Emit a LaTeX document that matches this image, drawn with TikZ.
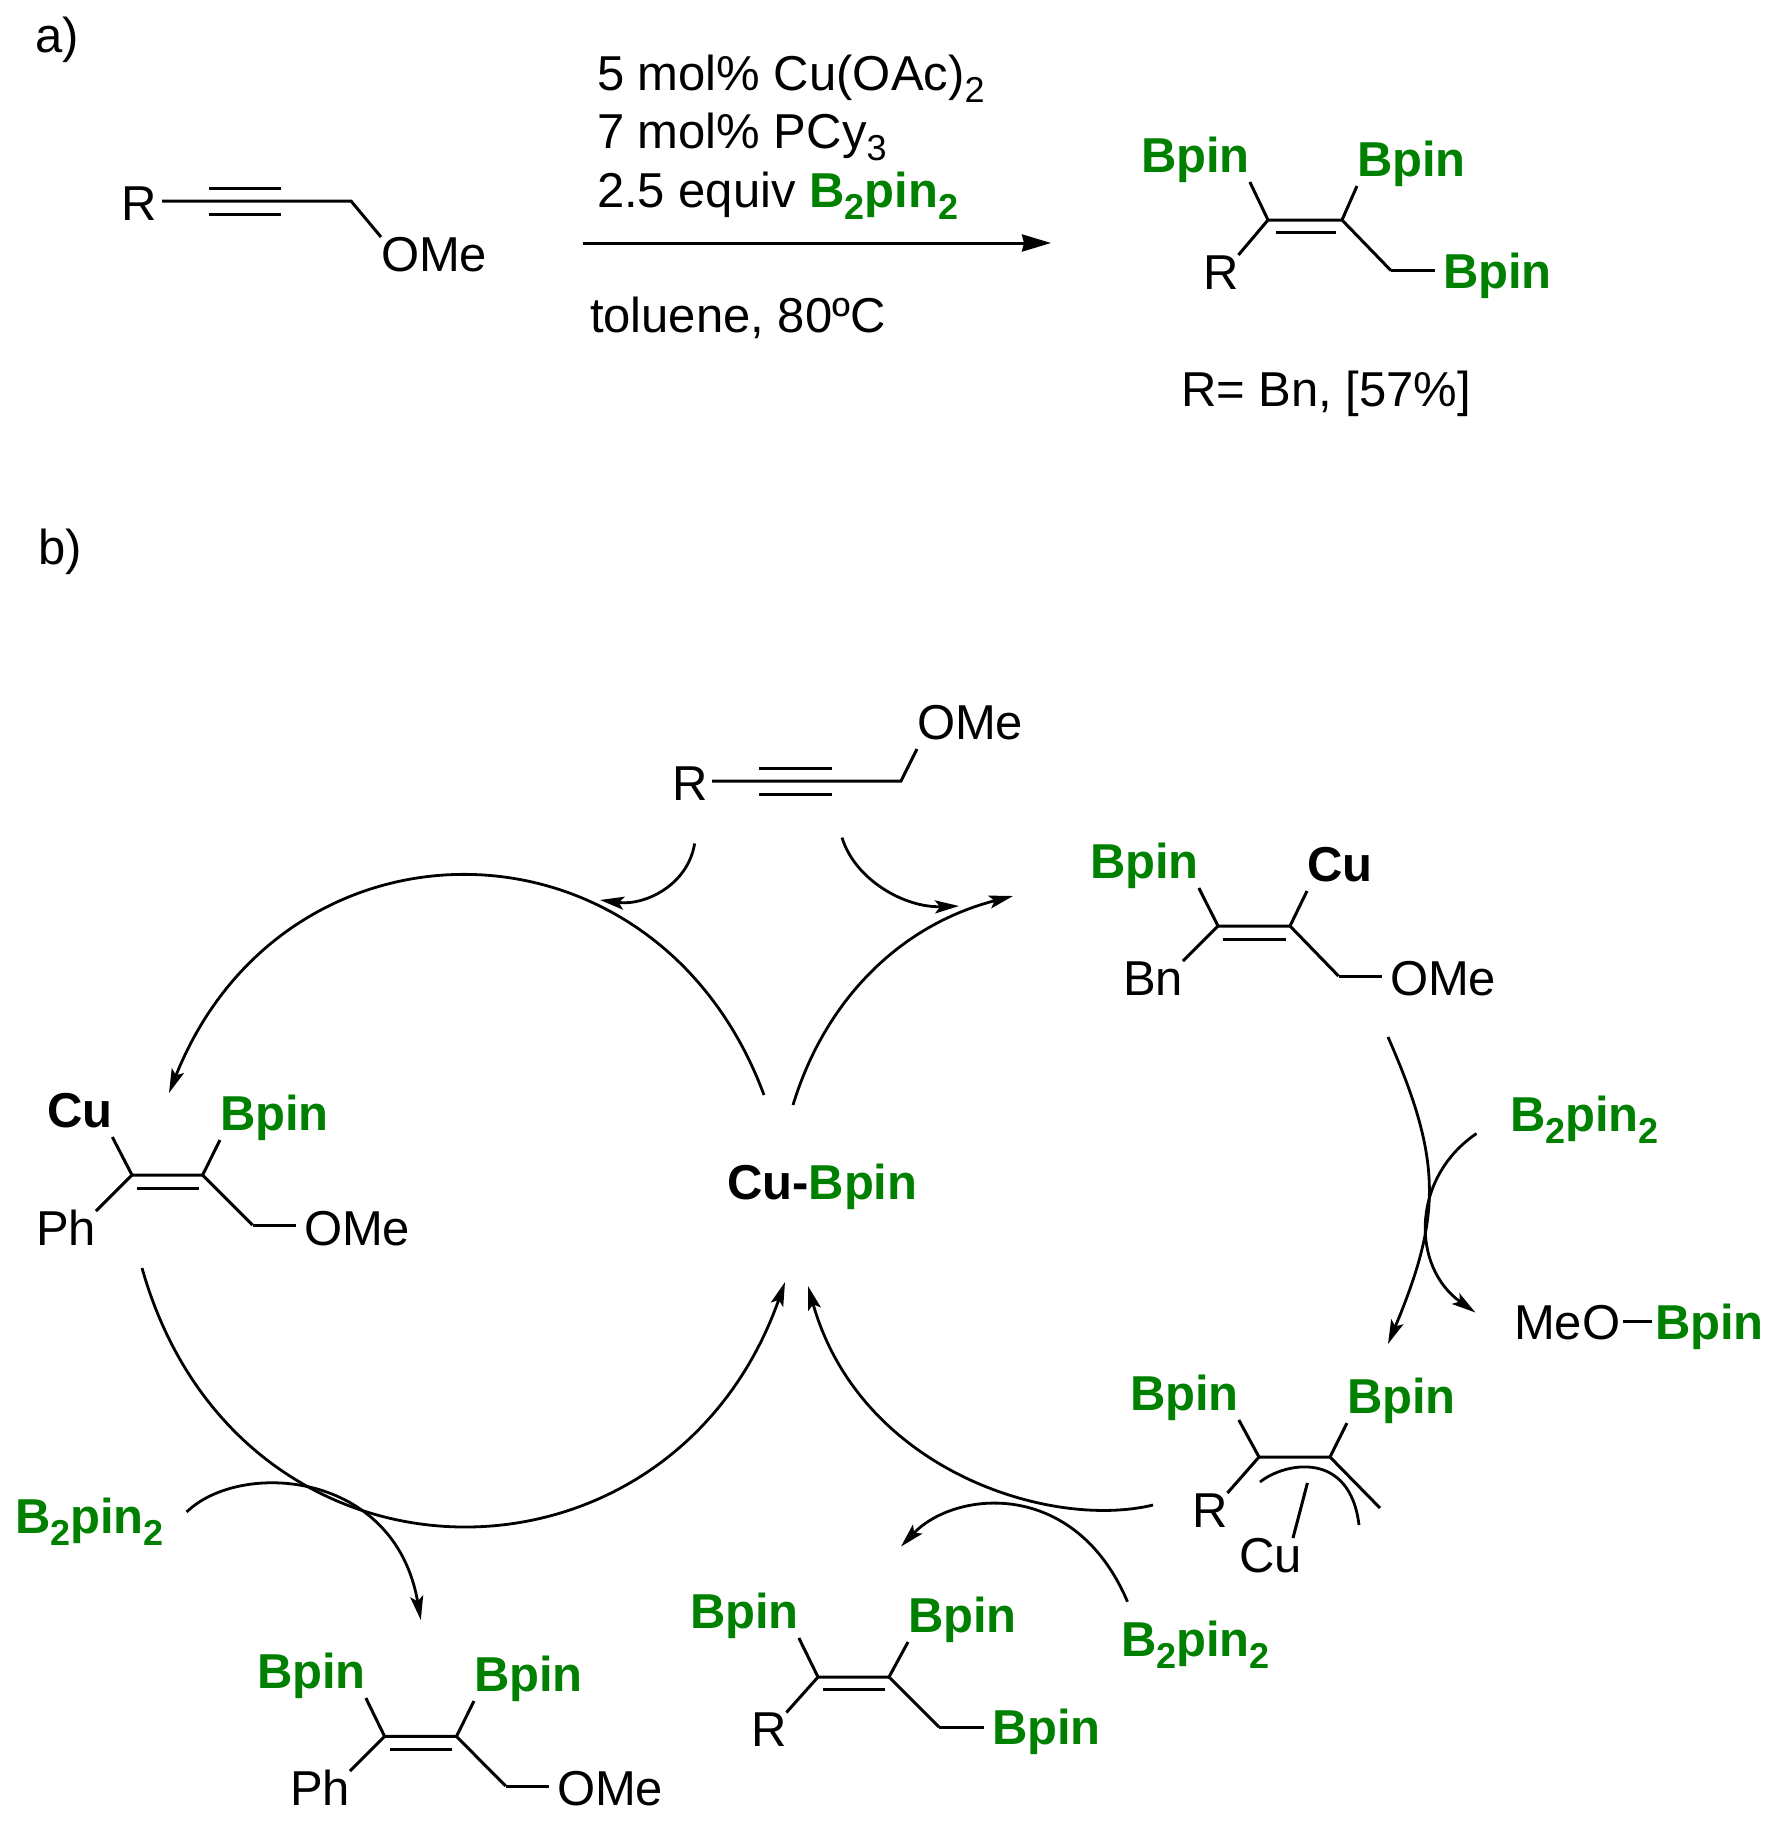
\documentclass[tikz,border=0pt]{standalone}
\usepackage{fontspec}
\setmainfont{Liberation Sans}
\usetikzlibrary{arrows.meta}
\definecolor{bpin color}{RGB}{0,128,0}
\newcommand{\lowered}[1]{\raisebox{-12pt}{\fontsize{36pt}{36pt}\selectfont #1}}
\newcommand{\btwopin}{\textcolor{bpin color}{\bfseries B\lowered{2}pin\lowered{2}}}
\tikzset{
    x={1pt},
    y={-1pt},
    chem text/.style={
        font=\fontsize{49pt}{49pt}\selectfont,
        anchor=base west,
        inner sep=0pt,
        outer sep=0pt,
        text height=34pt,
        text depth=10pt,
    },
    bold text/.style={
        chem text,
        font=\fontsize{49pt}{49pt}\selectfont\bfseries,
    },
    bpin text/.style={
        bold text,
        text=bpin color,
    },
    bond/.style={
        line width=3pt,
        line cap=butt,
        line join=miter,
    },
    label bond/.style={
        bond,
        shorten >=#1,
    },
    label bond/.default={8pt},
    curve/.style={
        line width=2.8pt,
    },
    curve arrow/.style={
        curve,
        -{Stealth[length=24pt,width=13pt,inset=5pt]},
    },
    long arrow/.style={
        bond,
        -{Stealth[length=29pt,width=17pt,inset=2pt]},
    },
}

\begin{document}
\begin{tikzpicture}
\useasboundingbox (0,0) rectangle (1776,1824);
% panel letters
\node[chem text] (panel a) at (35,52) {a)};
\node[chem text] (panel b) at (38,564) {b)};
% reaction a, substrate
\node[chem text] (a r) at (121,220) {R};
\node[chem text] (a ome) at (381,271) {OMe};
\coordinate (a start) at (162,201);
\coordinate (a ch2) at (351,201);
\draw[bond] (a start) -- (a ch2) -- (a ome.north west);
\draw[bond] (209,188) -- (281,188) (209,214) -- (281,214);
% reaction a, conditions
\node[chem text] (cond 1) at (597,90) {5 mol\% Cu(OAc)\lowered{2}};
\node[chem text] (cond 2) at (597,148.5) {7 mol\% PCy\lowered{3}};
\node[chem text] (cond 3) at (597,207) {2.5 equiv \btwopin};
\node[chem text] (cond 4) at (590,332) {toluene, 80ºC};
\coordinate (a arrow start) at (583,243);
\coordinate (a arrow end) at (1051,243);
\draw[long arrow] (a arrow start) -- (a arrow end);
% reaction a, product
\node[bpin text] (p bpin 1) at (1141,172) {Bpin};
\node[bpin text] (p bpin 2) at (1357,176) {Bpin};
\node[bpin text] (p bpin 3) at (1443,288) {Bpin};
\node[chem text] (p r) at (1203,289) {R};
\node[chem text] (p yield) at (1181,406) {R= Bn, [57\%]};
\coordinate (p c1) at (1268,220);
\coordinate (p c2) at (1342,220);
\coordinate (p ch2) at (1391,270.6);
\draw[bond] (p bpin 1.south east) -- (p c1) -- (p c2) -- (p bpin 2.south west);
\draw[bond] (p r.north east) -- (p c1);
\draw[bond] (p c2) -- (p ch2);
\draw[label bond] (p ch2) -- (p bpin 3.west |- p ch2);
\draw[bond] (1276,232.7) -- (1336,232.7);
% cycle, alkyne on top
\node[chem text] (b r) at (672,800) {R};
\node[chem text] (b ome) at (917,739) {OMe};
\coordinate (b start) at (712,781);
\coordinate (b ch2) at (901,781);
\draw[bond] (b start) -- (b ch2) -- (b ome.south west);
\draw[bond] (759,768) -- (832,768) (759,794) -- (832,794);
% cycle, centre
\node[bold text] (cu bpin) at (727,1199) {Cu-\textcolor{bpin color}{Bpin}};
% cycle, vinyl copper right
\node[bpin text] (v1 bpin) at (1090,878) {Bpin};
\node[bold text] (v1 cu) at (1307,881) {Cu};
\node[chem text] (v1 bn) at (1123,995) {Bn};
\node[chem text] (v1 ome) at (1390,995) {OMe};
\coordinate (v1 c1) at (1218,926);
\coordinate (v1 c2) at (1290,926);
\coordinate (v1 ch2) at (1338.5,976);
\draw[bond] (v1 bpin.south east) -- (v1 c1) -- (v1 c2) -- (v1 cu.south west);
\draw[bond] (v1 bn.north east) -- (v1 c1);
\draw[bond] (v1 c2) -- (v1 ch2);
\draw[label bond] (v1 ch2) -- (v1 ome.west |- v1 ch2);
\draw[bond] (1223,939) -- (1285.5,939);
% cycle, vinyl copper left
\node[bold text] (v2 cu) at (47,1127) {Cu};
\node[bpin text] (v2 bpin) at (220,1130) {Bpin};
\node[chem text] (v2 ph) at (36,1245) {Ph};
\node[chem text] (v2 ome) at (304,1245) {OMe};
\coordinate (v2 c1) at (132,1175);
\coordinate (v2 c2) at (202.6,1175);
\coordinate (v2 ch2) at (252.6,1225);
\draw[bond] (v2 cu.south east) -- (v2 c1) -- (v2 c2) -- (v2 bpin.south west);
\draw[bond] (v2 ph.north east) -- (v2 c1);
\draw[bond] (v2 c2) -- (v2 ch2);
\draw[label bond] (v2 ch2) -- (v2 ome.west |- v2 ch2);
\draw[bond] (136.6,1188) -- (198.6,1188);
% cycle, allyl copper
\node[bpin text] (al bpin 1) at (1130,1410) {Bpin};
\node[bpin text] (al bpin 2) at (1347,1413) {Bpin};
\node[chem text] (al r) at (1192,1527) {R};
\node[chem text] (al cu) at (1239,1572) {Cu};
\coordinate (al c1) at (1259,1457);
\coordinate (al c2) at (1330,1457);
\coordinate (al end) at (1380,1508);
\draw[bond] (al bpin 1.south east) -- (al c1) -- (al c2) -- (al bpin 2.south west);
\draw[bond] (al r.north east) -- (al c1);
\draw[bond] (al c2) -- (al end);
\coordinate (al cu top) at (1307.4,1483);
\draw[bond] (al cu top) -- (al cu.north east -| 1293,0);
\coordinate (al arc start) at (1260,1482);
\coordinate (al arc end) at (1359,1525);
\draw[curve] (al arc start) .. controls (1285,1462) and (1350,1450) .. (al arc end);
% cycle, products
\node[bpin text] (t1 bpin 1) at (690,1628) {Bpin};
\node[bpin text] (t1 bpin 2) at (908,1632) {Bpin};
\node[bpin text] (t1 bpin 3) at (992,1744) {Bpin};
\node[chem text] (t1 r) at (751,1746.5) {R};
\coordinate (t1 c1) at (818,1677);
\coordinate (t1 c2) at (889,1677);
\coordinate (t1 ch2) at (939,1727);
\draw[bond] (t1 bpin 1.south east) -- (t1 c1) -- (t1 c2) -- (t1 bpin 2.south west);
\draw[bond] (t1 r.north east) -- (t1 c1);
\draw[bond] (t1 c2) -- (t1 ch2);
\draw[label bond] (t1 ch2) -- (t1 bpin 3.west |- t1 ch2);
\draw[bond] (823,1689.6) -- (884.5,1689.6);
\node[bpin text] (t2 bpin 1) at (257,1688) {Bpin};
\node[bpin text] (t2 bpin 2) at (474,1691) {Bpin};
\node[chem text] (t2 ph) at (290,1805) {Ph};
\node[chem text] (t2 ome) at (557,1805) {OMe};
\coordinate (t2 c1) at (384.6,1736.4);
\coordinate (t2 c2) at (456.4,1736.4);
\coordinate (t2 ch2) at (505.7,1786);
\draw[bond] (t2 bpin 1.south east) -- (t2 c1) -- (t2 c2) -- (t2 bpin 2.south west);
\draw[bond] (t2 ph.north east) -- (t2 c1);
\draw[bond] (t2 c2) -- (t2 ch2);
\draw[label bond] (t2 ch2) -- (t2 ome.west |- t2 ch2);
\draw[bond] (390,1749) -- (452,1749);
% cycle, reagents
\node[chem text] (b2 right) at (1510,1131) {\btwopin};
\node[chem text] (b2 lower) at (1121,1656.5) {\btwopin};
\node[chem text] (b2 left) at (15,1533) {\btwopin};
\node[chem text] (meo) at (1514,1339) {MeO};
\node[bpin text] (meo bpin) at (1655,1339) {Bpin};
\draw[bond, shorten <=3pt, shorten >=3pt] (meo.east |- 0,1321) -- (meo bpin.west |- 0,1321);
% cycle, curves
\coordinate (ring a start) at (764,1095);
\coordinate (ring a end) at (169,1093);
\draw[curve arrow] (ring a start) .. controls (656,804) and (284,804) .. (ring a end);
\coordinate (ring b start) at (142,1268);
\coordinate (ring b end) at (785,1282);
\draw[curve arrow] (ring b start) .. controls (238,1608) and (670,1608) .. (ring b end);
\coordinate (ring c start) at (793,1105);
\coordinate (ring c end) at (1013,896);
\draw[curve arrow] (ring c start) .. controls (825,1000) and (900,925) .. (ring c end);
\coordinate (ring d start) at (1153,1505);
\coordinate (ring d end) at (808,1286);
\draw[curve arrow] (ring d start) .. controls (1050,1530) and (860,1470) .. (ring d end);
\coordinate (ring e start) at (1388,1037);
\coordinate (ring e end) at (1388,1344);
\draw[curve arrow] (ring e start) .. controls (1442,1160) and (1442,1215) .. (ring e end);
% cycle, side arrows
\coordinate (side a start) at (694.6,843.5);
\coordinate (side a end) at (600,900);
\draw[curve arrow] (side a start) .. controls (688,885) and (645,906) .. (side a end);
\coordinate (side b start) at (842,837.6);
\coordinate (side b end) at (959,906);
\draw[curve arrow] (side b start) .. controls (855,880) and (905,908) .. (side b end);
\coordinate (side c start) at (1476.5,1133.5);
\coordinate (side c end) at (1475.4,1312.5);
\draw[curve arrow] (side c start) .. controls (1411,1178) and (1411,1267) .. (side c end);
\coordinate (side d start) at (1127.5,1601.7);
\coordinate (side d end) at (901,1546.5);
\draw[curve arrow] (side d start) .. controls (1075,1478) and (955,1490) .. (side d end);
\coordinate (side e start) at (186.6,1512);
\coordinate (side e end) at (420.8,1620);
\draw[curve arrow] (side e start) .. controls (240,1460) and (395,1470) .. (side e end);
\end{tikzpicture}
\end{document}
